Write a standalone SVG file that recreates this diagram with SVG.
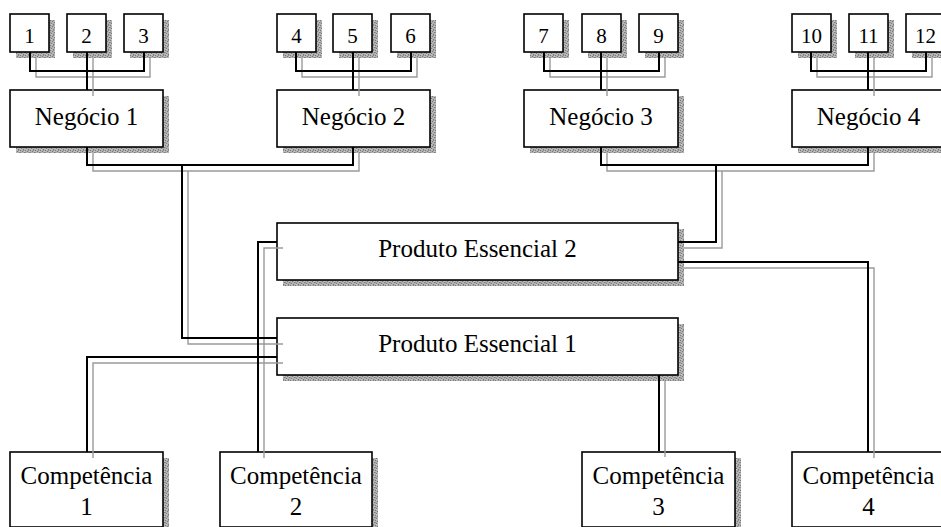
<svg xmlns="http://www.w3.org/2000/svg" width="941" height="527" viewBox="0 0 941 527">
  <defs>
    <!-- grainy drop-shadow fill -->
    <pattern id="stipple" width="5" height="5" patternUnits="userSpaceOnUse">
      <rect width="5" height="5" fill="#b2b2b2"/>
      <rect x="0" y="0" width="1" height="1" fill="#7a7a7a"/>
      <rect x="3" y="0" width="1" height="1" fill="#8a8a8a"/>
      <rect x="2" y="1" width="1" height="1" fill="#7a7a7a"/>
      <rect x="4" y="2" width="1" height="1" fill="#7a7a7a"/>
      <rect x="1" y="3" width="1" height="1" fill="#7a7a7a"/>
      <rect x="0" y="2" width="1" height="1" fill="#929292"/>
      <rect x="3" y="4" width="1" height="1" fill="#7a7a7a"/>
      <rect x="1" y="4" width="1" height="1" fill="#c8c8c8"/>
      <rect x="4" y="1" width="1" height="1" fill="#c8c8c8"/>
    </pattern>
  </defs>
  <style>
    .shadow { fill: url(#stipple); }
    .box { fill: #ffffff; stroke: #000000; stroke-width: 1.6; }
    .big { font-family: "Liberation Serif", "Times New Roman", serif; font-size: 25px; fill: #000000; text-anchor: middle; }
    .small { font-family: "Liberation Serif", "Times New Roman", serif; font-size: 21px; fill: #000000; text-anchor: middle; }
    .wire { fill: none; stroke: #000000; stroke-width: 2; }
    .wire-shadow { fill: none; stroke: #9a9a9a; stroke-width: 1.4; }
  </style>

  <rect width="941" height="527" fill="#ffffff"/>

  <!-- small numbered boxes -->
  <g id="n1"><rect class="shadow" x="16" y="20" width="39" height="38"/><rect class="box" x="10" y="14" width="39" height="38"/><text class="small" x="29.5" y="43">1</text></g>
  <g id="n2"><rect class="shadow" x="73" y="20" width="39" height="38"/><rect class="box" x="67" y="14" width="39" height="38"/><text class="small" x="86.5" y="43">2</text></g>
  <g id="n3"><rect class="shadow" x="130" y="20" width="39" height="38"/><rect class="box" x="124" y="14" width="39" height="38"/><text class="small" x="143.5" y="43">3</text></g>
  <g id="n4"><rect class="shadow" x="283" y="20" width="39" height="38"/><rect class="box" x="277" y="14" width="39" height="38"/><text class="small" x="296.5" y="43">4</text></g>
  <g id="n5"><rect class="shadow" x="339" y="20" width="39" height="38"/><rect class="box" x="333" y="14" width="39" height="38"/><text class="small" x="352.5" y="43">5</text></g>
  <g id="n6"><rect class="shadow" x="397" y="20" width="39" height="38"/><rect class="box" x="391" y="14" width="39" height="38"/><text class="small" x="410.5" y="43">6</text></g>
  <g id="n7"><rect class="shadow" x="530" y="20" width="39" height="38"/><rect class="box" x="524" y="14" width="39" height="38"/><text class="small" x="543.5" y="43">7</text></g>
  <g id="n8"><rect class="shadow" x="588" y="20" width="39" height="38"/><rect class="box" x="582" y="14" width="39" height="38"/><text class="small" x="601.5" y="43">8</text></g>
  <g id="n9"><rect class="shadow" x="645" y="20" width="39" height="38"/><rect class="box" x="639" y="14" width="39" height="38"/><text class="small" x="658.5" y="43">9</text></g>
  <g id="n10"><rect class="shadow" x="798" y="20" width="39" height="38"/><rect class="box" x="792" y="14" width="39" height="38"/><text class="small" x="811.5" y="43">10</text></g>
  <g id="n11"><rect class="shadow" x="855" y="20" width="39" height="38"/><rect class="box" x="849" y="14" width="39" height="38"/><text class="small" x="868.5" y="43">11</text></g>
  <g id="n12"><rect class="shadow" x="912" y="20" width="39" height="38"/><rect class="box" x="906" y="14" width="39" height="38"/><text class="small" x="925.5" y="43">12</text></g>

  <!-- business units -->
  <g id="negocio1"><rect class="shadow" x="16" y="96" width="153" height="57"/><rect class="box" x="10" y="90" width="153" height="57"/><text class="big" x="86.5" y="125">Negócio 1</text></g>
  <g id="negocio2"><rect class="shadow" x="283" y="96" width="153" height="57"/><rect class="box" x="277" y="90" width="153" height="57"/><text class="big" x="353.5" y="125">Negócio 2</text></g>
  <g id="negocio3"><rect class="shadow" x="530" y="96" width="154" height="57"/><rect class="box" x="524" y="90" width="154" height="57"/><text class="big" x="601" y="125">Negócio 3</text></g>
  <g id="negocio4"><rect class="shadow" x="798" y="96" width="153" height="57"/><rect class="box" x="792" y="90" width="153" height="57"/><text class="big" x="868.5" y="125">Negócio 4</text></g>

  <!-- core products -->
  <g id="produto2"><rect class="shadow" x="283" y="229" width="401" height="57"/><rect class="box" x="277" y="223" width="401" height="57"/><text class="big" x="477.5" y="257">Produto Essencial 2</text></g>
  <g id="produto1"><rect class="shadow" x="283" y="324" width="401" height="57"/><rect class="box" x="277" y="318" width="401" height="57"/><text class="big" x="477.5" y="352">Produto Essencial 1</text></g>

  <!-- competences (cut at the lower edge) -->
  <g id="competencia1"><rect class="shadow" x="16" y="458" width="153" height="75"/><rect class="box" x="10" y="452" width="153" height="75"/><text class="big" x="86.5" y="484">Competência</text><text class="big" x="86.5" y="515">1</text></g>
  <g id="competencia2"><rect class="shadow" x="226" y="458" width="152" height="75"/><rect class="box" x="220" y="452" width="152" height="75"/><text class="big" x="296" y="484">Competência</text><text class="big" x="296" y="515">2</text></g>
  <g id="competencia3"><rect class="shadow" x="588" y="458" width="153" height="75"/><rect class="box" x="582" y="452" width="153" height="75"/><text class="big" x="658.5" y="484">Competência</text><text class="big" x="658.5" y="515">3</text></g>
  <g id="competencia4"><rect class="shadow" x="798" y="458" width="153" height="75"/><rect class="box" x="792" y="452" width="153" height="75"/><text class="big" x="868.5" y="484">Competência</text><text class="big" x="868.5" y="515">4</text></g>

  <!-- connectors: grey offset copy first, black line on top -->
  <g id="connectors">
    <g class="wire-shadow">
      <path d="M36,58 V77 H150 V58 M93,58 V96"/>
      <path d="M302,58 V77 H417 V58 M359,58 V96"/>
      <path d="M550,58 V77 H665 V58 M607,58 V96"/>
      <path d="M817,58 V77 H932 V58 M874,58 V96"/>
      <path d="M93,153 V171 H359 V153 M188,171 V344 H283"/>
      <path d="M607,153 V171 H874 V153 M722,171 V248 H684"/>
      <path d="M283,248 H264 V458"/>
      <path d="M684,268 H874 V458"/>
      <path d="M283,363 H93 V458"/>
      <path d="M665,381 V457"/>
    </g>
    <g class="wire">
      <path d="M30,52 V71 H144 V52 M87,52 V90"/>
      <path d="M296,52 V71 H411 V52 M353,52 V90"/>
      <path d="M544,52 V71 H659 V52 M601,52 V90"/>
      <path d="M811,52 V71 H926 V52 M868,52 V90"/>
      <path d="M87,147 V165 H353 V147 M182,165 V338 H277"/>
      <path d="M601,147 V165 H868 V147 M716,165 V242 H678"/>
      <path d="M277,242 H258 V452"/>
      <path d="M678,262 H868 V452"/>
      <path d="M277,357 H87 V452"/>
      <path d="M659,375 V451"/>
    </g>
  </g>
</svg>
